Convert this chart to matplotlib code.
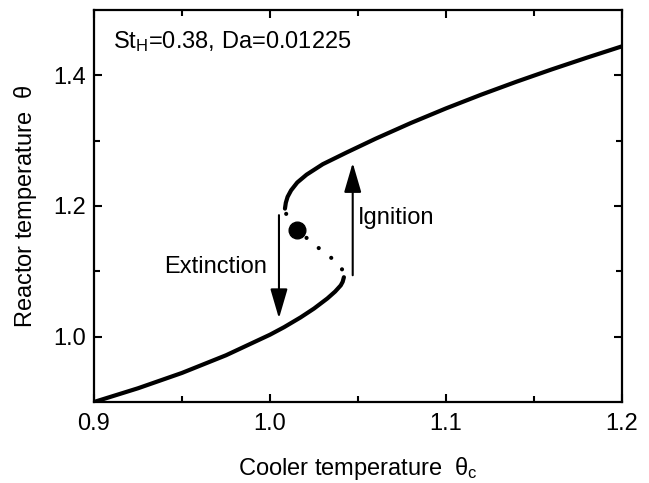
import matplotlib.pyplot as plt

plt.rcParams['font.family'] = ['Liberation Sans', 'DejaVu Sans']
plt.rcParams['mathtext.fontset'] = 'custom'
plt.rcParams['mathtext.rm'] = 'Liberation Sans'
plt.rcParams['mathtext.it'] = 'Liberation Sans'

# Lower (cold) stable branch
lower_tc = [0.900, 0.925, 0.950, 0.975, 1.000, 1.008, 1.0174, 1.025, 1.0326,
            1.037, 1.0402, 1.0413, 1.0420]
lower_t = [0.900, 0.921, 0.9445, 0.9715, 1.003, 1.0145, 1.0295, 1.043, 1.0585,
           1.069, 1.0785, 1.084, 1.091]

# Upper (hot) stable branch
upper_tc = [1.0085, 1.0090, 1.0100, 1.0120, 1.0155, 1.0208, 1.030, 1.0436,
            1.060, 1.080, 1.100, 1.120, 1.140, 1.160, 1.180, 1.200]
upper_t = [1.196, 1.205, 1.214, 1.224, 1.236, 1.248, 1.264, 1.282,
           1.303, 1.327, 1.3494, 1.3704, 1.3902, 1.409, 1.427, 1.4444]

# Unstable middle branch (dotted)
mid_tc = [1.0092, 1.0153, 1.0260, 1.0320, 1.0386, 1.0412]
mid_t = [1.188, 1.164, 1.139, 1.127, 1.112, 1.102]

# Operating point
op_tc, op_t = 1.0153, 1.164

fs = 17

fig = plt.figure(figsize=(6.49, 4.83), dpi=100)
ax = fig.add_axes([0.1448, 0.1677, 0.8136, 0.8116])

ax.plot(lower_tc, lower_t, color='black', lw=3, solid_capstyle='round',
        solid_joinstyle='round')
ax.plot(upper_tc, upper_t, color='black', lw=3, solid_capstyle='round',
        solid_joinstyle='round')
ax.plot(mid_tc, mid_t, color='black', lw=3, linestyle=(0, (0.01, 3.8)),
        dash_capstyle='round')
ax.plot([op_tc], [op_t], 'o', color='black', markersize=12)

# Extinction / ignition arrows
arrow = dict(arrowstyle='-|>,head_length=1.3,head_width=0.38',
             color='black', lw=1.5, mutation_scale=14, shrinkA=0, shrinkB=0)
ax.annotate('', xy=(1.0051, 1.028), xytext=(1.0051, 1.186), arrowprops=arrow)
ax.annotate('', xy=(1.0470, 1.266), xytext=(1.0470, 1.094), arrowprops=arrow)

ax.text(0.9983, 1.107, 'Extinction', fontsize=fs, ha='right', va='center')
ax.text(1.0500, 1.181, 'Ignition', fontsize=fs, ha='left', va='center')
ax.text(0.9108, 1.452, r'St$_\mathregular{H}$=0.38, Da=0.01225', fontsize=fs,
        ha='left', va='center')

ax.set_xlim(0.9, 1.2)
ax.set_ylim(0.9, 1.5)
ax.set_xticks([0.9, 1.0, 1.1, 1.2])
ax.set_xticks([0.95, 1.05, 1.15], minor=True)
ax.set_yticks([1.0, 1.2, 1.4])
ax.set_yticks([1.1, 1.3], minor=True)
ax.set_xticklabels(['0.9', '1.0', '1.1', '1.2'])
ax.set_yticklabels(['1.0', '1.2', '1.4'])
ax.tick_params(which='both', direction='in', top=True, right=True,
               labelsize=fs, width=1.5)
ax.tick_params(which='major', length=6)
ax.tick_params(axis='x', which='major', pad=8)
ax.tick_params(axis='y', which='major', pad=6)
ax.tick_params(which='minor', length=4)
for s in ax.spines.values():
    s.set_linewidth(1.6)

ax.set_xlabel(r'Cooler temperature  $\theta_\mathregular{c}$', fontsize=fs, labelpad=14)
ax.set_ylabel(r'Reactor temperature  $\theta$', fontsize=fs, labelpad=10)

fig.savefig('out.png', dpi=100)
